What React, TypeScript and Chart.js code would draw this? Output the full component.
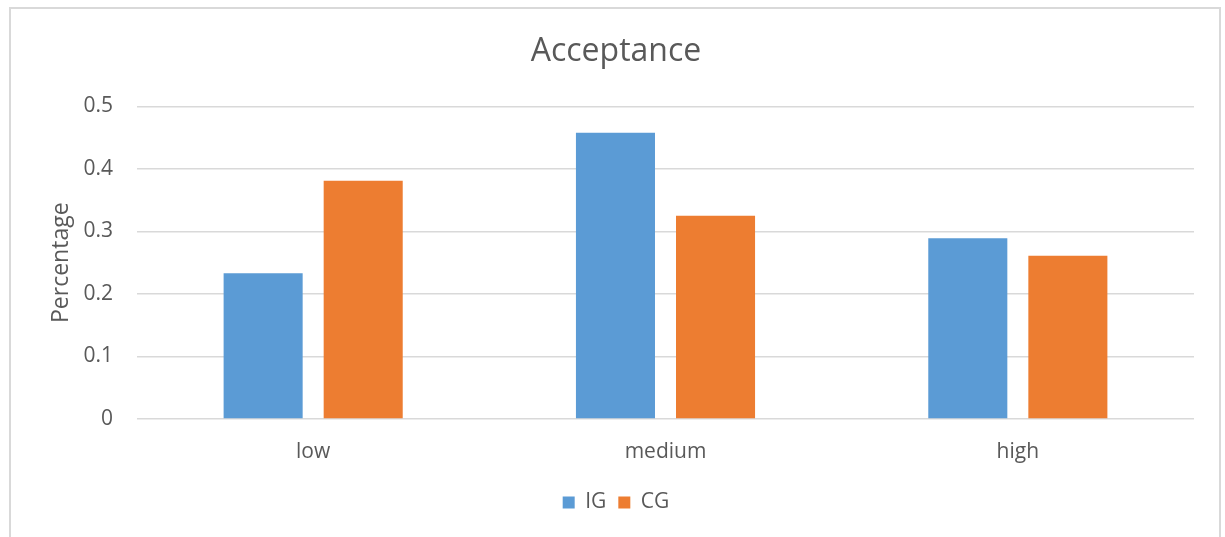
import React, { useEffect, useRef } from "react";
import { Chart, registerables } from "chart.js";

Chart.register(...registerables);

const categories = ["low", "medium", "high"];
const igValues = [0.233, 0.458, 0.289];
const cgValues = [0.381, 0.325, 0.261];
const yTicks = [0, 0.1, 0.2, 0.3, 0.4, 0.5];

const FONT = "'Open Sans', 'Liberation Sans', sans-serif";
const TEXT = "#595959";

export default function App() {
  const ref = useRef<HTMLCanvasElement | null>(null);
  useEffect(() => {
    if (!ref.current) return;
    const chart = new Chart(ref.current, {
      type: "bar",
      data: {
        labels: categories,
        datasets: [
          { label: "IG", data: igValues, backgroundColor: "#5b9bd5", categoryPercentage: 0.568, barPercentage: 0.79 },
          { label: "CG", data: cgValues, backgroundColor: "#ed7d31", categoryPercentage: 0.568, barPercentage: 0.79 },
        ],
      },
      options: {
        animation: false,
        responsive: false,
        maintainAspectRatio: false,
        layout: { padding: { left: 10, right: 3, top: 33, bottom: 14 } },
        plugins: {
          title: {
            display: true,
            text: "Acceptance",
            color: TEXT,
            font: { family: FONT, size: 32, weight: "normal" },
            padding: { top: 0, bottom: 35 },
          },
          legend: {
            position: "bottom",
            labels: {
              color: TEXT,
              font: { family: FONT, size: 21 },
              boxWidth: 12,
              boxHeight: 12,
              padding: 12,
            },
          },
          tooltip: { enabled: false },
        },
        scales: {
          x: {
            grid: { display: false },
            border: { display: false },
            ticks: { color: TEXT, font: { family: FONT, size: 21 }, padding: 12 },
            afterFit: (axis: any) => {
              axis.height = 61;
            },
          },
          y: {
            min: 0,
            max: 0.5,
            afterBuildTicks: (axis: any) => {
              axis.ticks = yTicks.map((v) => ({ value: v }));
            },
            afterFit: (axis: any) => {
              axis.width = 127;
            },
            grid: { color: "#d9d9d9", lineWidth: 1.5, drawTicks: false },
            border: { display: false },
            ticks: {
              color: TEXT,
              font: { family: FONT, size: 21 },
              padding: 24,
              callback: (v: any) => String(Number(v)),
            },
            title: {
              display: true,
              text: "Percentage",
              color: TEXT,
              font: { family: FONT, size: 23 },
              padding: { top: 38, bottom: 0 },
            },
          },
          yRight: {
            position: "right",
            display: true,
            min: 0,
            max: 0.5,
            grid: { display: false, drawTicks: false },
            border: { display: false },
            ticks: { display: false },
            afterFit: (axis: any) => {
              axis.width = 28;
            },
          },
        },
      },
    });
    return () => chart.destroy();
  }, []);
  return (
    <div style={{ position: "fixed", left: 0, top: 0, width: 1225, height: 537, background: "#fff" }}>
      <div
        style={{
          position: "absolute",
          left: 9,
          top: 7,
          width: 1212,
          height: 560,
          border: "2px solid #d9d9d9",
          boxSizing: "border-box",
        }}
      />
      <canvas ref={ref} width={1225} height={537} style={{ position: "absolute", left: 0, top: 0 }} />
    </div>
  );
}
